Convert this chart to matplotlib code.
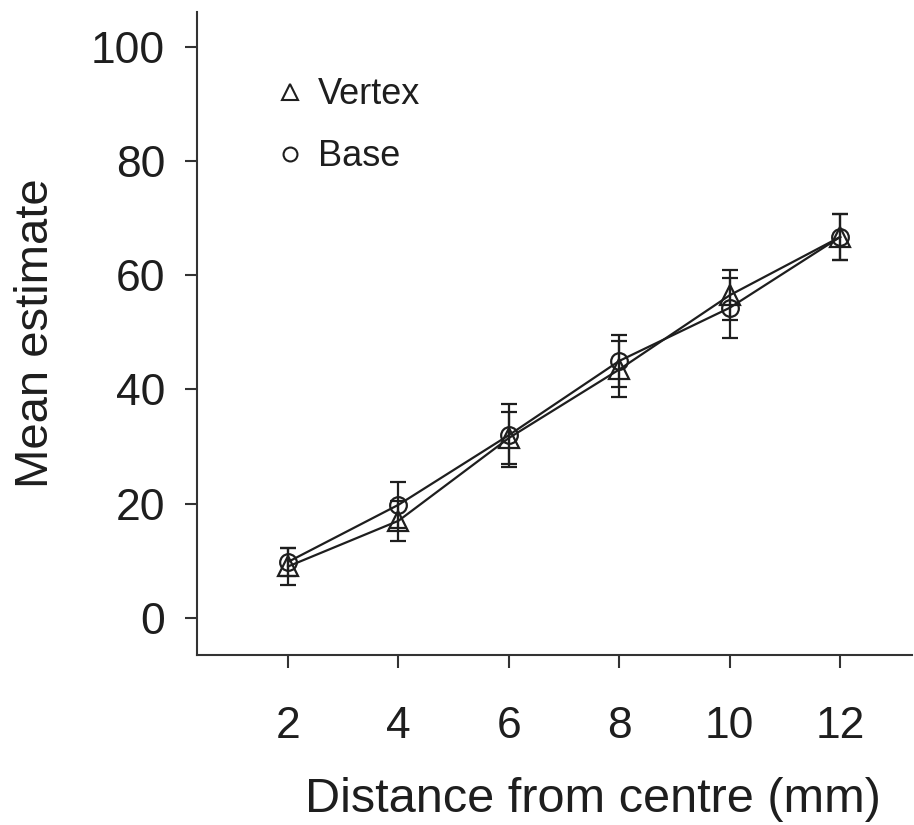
import matplotlib
matplotlib.use("Agg")
import matplotlib.pyplot as plt
from matplotlib.lines import Line2D

plt.rcParams['font.family'] = ['Liberation Sans', 'DejaVu Sans']

# data
distance = [2, 4, 6, 8, 10, 12]
vertex_mean = [9.0, 17.0, 31.5, 43.5, 56.5, 66.7]
vertex_err = [3.2, 3.5, 4.5, 4.9, 4.4, 4.0]
base_mean = [9.8, 19.8, 32.0, 45.0, 54.3, 66.7]
base_err = [2.4, 4.0, 5.5, 4.5, 5.3, 4.0]

ink = "#1e1e1e"

fig = plt.figure(figsize=(9.14, 8.25), dpi=100)
ax = fig.add_axes([0.2155, 0.2061, 0.7823, 0.7794])

ax.errorbar(distance, vertex_mean, yerr=vertex_err, color=ink, lw=1.6,
            marker="^", ms=14, mfc="none", mec=ink, mew=1.6,
            capsize=6, elinewidth=1.6, capthick=1.6)
ax.errorbar(distance, base_mean, yerr=base_err, color=ink, lw=1.6,
            marker="o", ms=12, mfc="none", mec=ink, mew=1.6,
            capsize=6, elinewidth=1.6, capthick=1.6)

ax.set_xlim(0.35, 13.3)
ax.set_ylim(-6.5, 106.1)
ax.set_xticks(distance)
ax.set_yticks([0, 20, 40, 60, 80, 100])

for side in ["top", "right"]:
    ax.spines[side].set_visible(False)
for side in ["left", "bottom"]:
    ax.spines[side].set_linewidth(1.5)
    ax.spines[side].set_color("#333333")

ax.tick_params(axis="both", labelsize=32, width=1.5, length=9, color="#333333",
               labelcolor=ink)
ax.tick_params(axis="x", pad=28)
ax.tick_params(axis="y", pad=14)

ax.set_xlabel("Distance from centre (mm)", fontsize=35, color=ink)
ax.xaxis.set_label_coords(0.554, -0.19)
ax.set_ylabel("Mean estimate", fontsize=34, color=ink)
ax.yaxis.set_label_coords(-0.195, 0.5)

handles = [
    Line2D([], [], ls="none", marker="^", ms=12, mfc="none", mec=ink, mew=1.5),
    Line2D([], [], ls="none", marker="o", ms=10, mfc="none", mec=ink, mew=1.5),
]
ax.legend(handles, ["Vertex", "Base"], loc="upper left", bbox_to_anchor=(0.064, 0.949),
          frameon=False, fontsize=26, labelspacing=0.75, handlelength=0.8,
          handletextpad=0.38, labelcolor=ink)

fig.savefig("out.png", dpi=100)
